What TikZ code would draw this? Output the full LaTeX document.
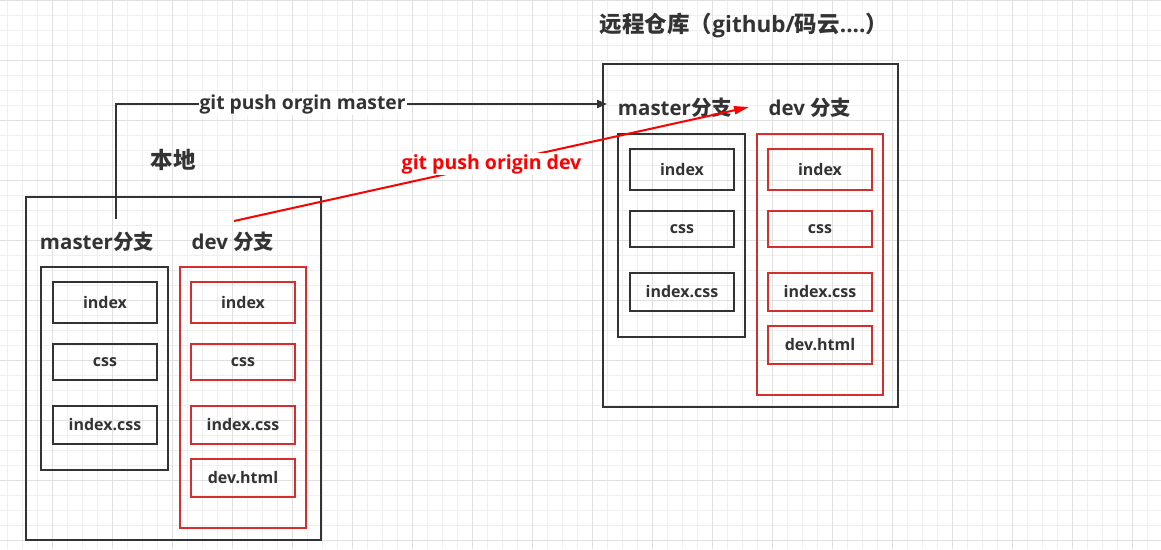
\documentclass[tikz,border=0pt]{standalone}
\usepackage{fontspec}
\setmainfont{Open Sans}
\newfontfamily\cjk{Noto Sans CJK SC}
\usetikzlibrary{arrows.meta}
\definecolor{ink}{HTML}{333333}
\definecolor{boxred}{HTML}{D32F2F}
\definecolor{gridminor}{HTML}{EFEFEF}
\definecolor{gridmajor}{HTML}{E0E0E0}

\begin{document}
\begin{tikzpicture}[x=1pt,y=-1pt,line join=miter,
  repo/.style={draw=ink,line width=2pt,minimum width=295,minimum height=343},
  mcol/.style={draw=ink,line width=2pt,minimum width=127,minimum height=203},
  dcol/.style={draw=boxred,line width=2pt,minimum width=126,minimum height=261},
  mfile/.style={draw=ink,line width=2pt,minimum width=104,text=ink,font=\fontsize{16}{16}\selectfont\bfseries},
  dfile/.style={draw=boxred,line width=2pt,minimum width=104,text=ink,font=\fontsize{16}{16}\selectfont\bfseries},
  branch/.style={text=ink,font=\fontsize{20.5}{20.5}\selectfont\bfseries},
  title/.style={text=ink,font=\fontsize{22.5}{22.5}\selectfont\bfseries}]

  \useasboundingbox (0,0) rectangle (1161,549);
  \fill[white] (0,0) rectangle (1161,549);

  % grid paper
  \foreach \gx in {7,22,...,1161} \draw[gridminor,line width=1pt] (\gx,0) -- (\gx,549);
  \foreach \gy in {15,30,...,549} \draw[gridminor,line width=1pt] (0,\gy) -- (1161,\gy);
  \foreach \gx in {52,112,...,1161} \draw[gridmajor,line width=1pt] (\gx,0) -- (\gx,549);
  \foreach \gy in {0,60,...,549} \draw[gridmajor,line width=1pt] (0,\gy) -- (1161,\gy);

  % local
  \node[repo] (local) at (173.5,368.5) {};
  \node[title] (localtitle) at (173,160) {\cjk\bfseries 本地};
  \node[branch] (lmaster) at (97,242) {master{\cjk\bfseries 分支}};
  \node[branch] (ldev) at (233,242) {dev {\cjk\bfseries 分支}};
  \node[mcol] (lmcol) at (104.5,368.5) {};
  \node[dcol] (ldcol) at (243,397.5) {};
  \node[mfile,minimum height=41] (lmindex) at (105,302.5) {index};
  \node[mfile,minimum height=36] (lmcss) at (105,362) {css};
  \node[mfile,minimum height=38] (lmindexcss) at (105,425) {index.css};
  \node[dfile,minimum height=41] (ldindex) at (243,302.5) {index};
  \node[dfile,minimum height=36] (ldcss) at (243,362) {css};
  \node[dfile,minimum height=38] (ldindexcss) at (243,425) {index.css};
  \node[dfile,minimum height=38] (ldhtml) at (243,478) {dev.html};

  % remote
  \node[repo] (remote) at (750.5,235.5) {};
  \node[title] (remotetitle) at (744,25) {{\cjk\bfseries 远程仓库（}github/{\cjk\bfseries 码云}....{\cjk\bfseries ）}};
  \node[branch] (rmaster) at (675,108) {master{\cjk\bfseries 分支}};
  \node[branch] (rdev) at (810,108) {dev {\cjk\bfseries 分支}};
  \node[mcol] (rmcol) at (681.5,235.5) {};
  \node[dcol] (rdcol) at (820,264.5) {};
  \node[mfile,minimum height=41] (rmindex) at (682,169.5) {index};
  \node[mfile,minimum height=36] (rmcss) at (682,229) {css};
  \node[mfile,minimum height=38] (rmindexcss) at (682,292) {index.css};
  \node[dfile,minimum height=41] (rdindex) at (820,169.5) {index};
  \node[dfile,minimum height=36] (rdcss) at (820,229) {css};
  \node[dfile,minimum height=38] (rdindexcss) at (820,292) {index.css};
  \node[dfile,minimum height=38] (rdhtml) at (820,345) {dev.html};

  % pushes
  \coordinate (mfrom) at (116,219);
  \coordinate (mto) at (607,104);
  \coordinate (dfrom) at (234,221);
  \coordinate (dto) at (749,107);

  \draw[ink,line width=2pt,-{Triangle[length=10pt,width=8pt]}] (mfrom) |-
    node[pos=0.69,fill=white,inner sep=1pt,text=ink,font=\fontsize{19.3}{19.3}\selectfont\bfseries] {git push orgin master} (mto);
  \draw[red,line width=2pt,-{Triangle[length=15pt,width=8pt]}] (dfrom) --
    node[midway,fill=white,inner sep=1pt,text=red,font=\fontsize{19.5}{19.5}\selectfont\bfseries] {git push origin dev} (dto);
\end{tikzpicture}
\end{document}
